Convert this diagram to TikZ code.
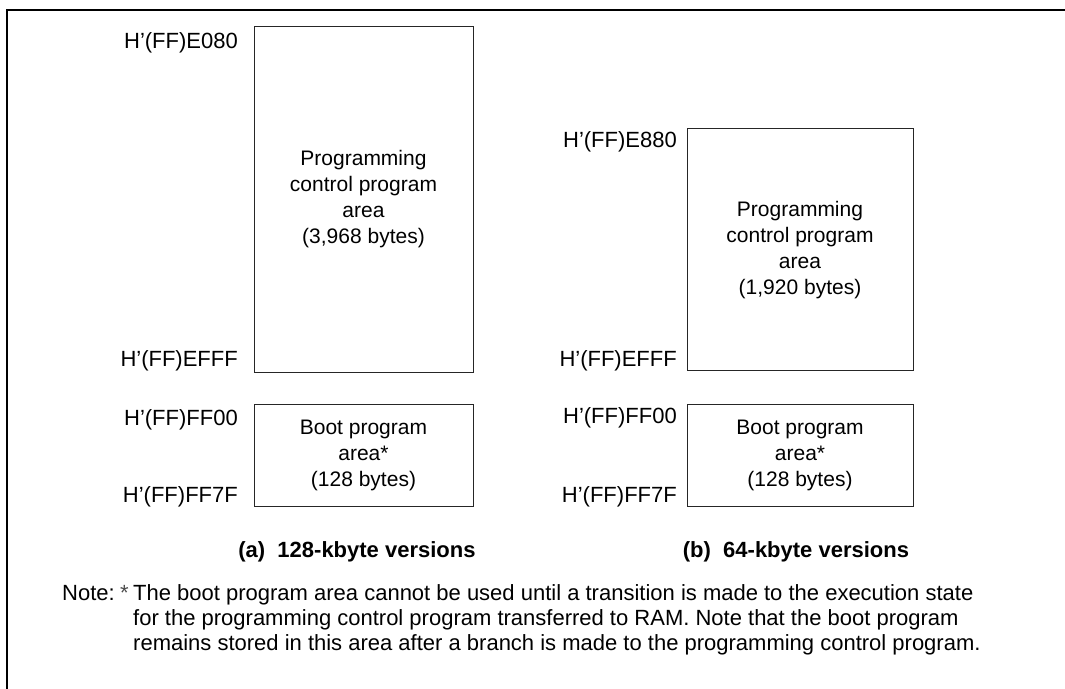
\documentclass[tikz,border=0pt]{standalone}
\usepackage{fontspec}
\setmainfont{Liberation Sans}
\begin{document}
\begin{tikzpicture}[x=1pt,y=-1pt,
  area/.style={draw=black!85,line width=1pt},
  addr/.style={anchor=base east,inner sep=0pt,font=\fontsize{22}{26}\selectfont},
  boxtext/.style={align=center,inner sep=0pt,font=\fontsize{21}{26}\selectfont},
  caption/.style={anchor=base,inner sep=0pt,font=\fontsize{22}{26}\selectfont\bfseries},
  notetext/.style={anchor=base west,inner sep=0pt,font=\fontsize{22}{25}\selectfont}]
\useasboundingbox (0,0) rectangle (1065,688);
\clip (0,0) rectangle (1065,688);
\draw[line width=2.5pt] (7,700) -- (7,10) -- (1080,10);

% (a) 128-kbyte
\draw[area] (254,26) rectangle (473,372);
\node[boxtext] (pa) at (363.5,199) {Programming\\control program\\area\\(3,968 bytes)};
\draw[area] (254,404) rectangle (473,506);
\node[boxtext] (ba) at (363.5,455) {Boot program\\area*\\(128 bytes)};
\node[addr] (a1) at (238,48) {H'(FF)E080};
\node[addr] (a2) at (238,366) {H'(FF)EFFF};
\node[addr] (a3) at (238,425) {H'(FF)FF00};
\node[addr] (a4) at (238,502) {H'(FF)FF7F};
\node[caption] (capa) at (357,557) {(a)\ \ 128-kbyte versions};

% (b) 64-kbyte
\draw[area] (687,128) rectangle (913,370);
\node[boxtext] (pb) at (800,250) {Programming\\control program\\area\\(1,920 bytes)};
\draw[area] (687,404) rectangle (913,506);
\node[boxtext] (bb) at (800,455) {Boot program\\area*\\(128 bytes)};
\node[addr] (b1) at (677,147) {H'(FF)E880};
\node[addr] (b2) at (677,366) {H'(FF)EFFF};
\node[addr] (b3) at (677,423) {H'(FF)FF00};
\node[addr] (b4) at (677,502) {H'(FF)FF7F};
\node[caption] (capb) at (796,557) {(b)\ \ 64-kbyte versions};

% note
\node[notetext] (nl) at (62,600) {Note:};
\node[notetext,text=black!70] (ns) at (120,600) {*};
\node[notetext] (n1) at (133,600) {The boot program area cannot be used until a transition is made to the execution state};
\node[notetext] (n2) at (133,625) {for the programming control program transferred to RAM. Note that the boot program};
\node[notetext] (n3) at (133,650) {remains stored in this area after a branch is made to the programming control program.};
\end{tikzpicture}
\end{document}
